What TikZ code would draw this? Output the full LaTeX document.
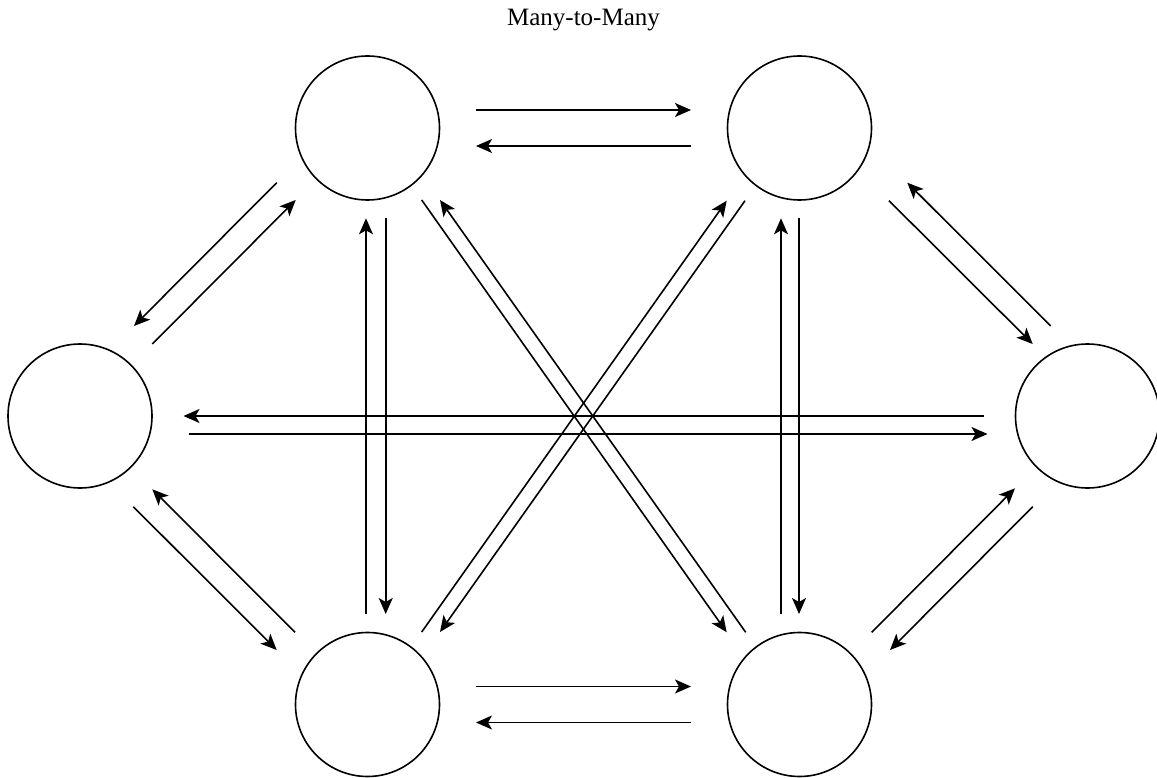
\documentclass[tikz,border=0pt]{standalone}
\usepackage{fontspec}
\setmainfont{Liberation Serif}
\usetikzlibrary{arrows.meta,calc}
\begin{document}
\begin{tikzpicture}[x=1pt,y=-1pt,
  vertex/.style={circle,draw,line width=1.6pt,minimum size=144pt,inner sep=0pt},
  link/.style={line width=1.6pt,-{Stealth[length=16pt,width=14pt,inset=4pt]}}]
\useasboundingbox (0,0) rectangle (1157,778);

% heading
\node (title) at (583.5,20) {\fontsize{25}{29}\selectfont Many-to-Many};

% the six participants
\node[vertex] (L)  at (80,416)      {};
\node[vertex] (TL) at (367.5,128)   {};
\node[vertex] (TR) at (799.5,128)   {};
\node[vertex] (R)  at (1087.5,416)  {};
\node[vertex] (BL) at (367.5,704.5) {};
\node[vertex] (BR) at (799.5,704.5) {};

% top pair
\draw[link] ($(TL)+(108.5,-18)$) -- ($(TR)+(-108.5,-18)$);
\draw[link] ($(TR)+(-108.5,18)$) -- ($(TL)+(108.5,18)$);
% bottom pair
\draw[link] ($(BL)+(108.5,-18)$) -- ($(BR)+(-108.5,-18)$);
\draw[link] ($(BR)+(-108.5,18)$) -- ($(BL)+(108.5,18)$);
% middle pair
\draw[link] ($(R)+(-104,0)$) -- ($(L)+(103.5,0)$);
\draw[link] ($(L)+(108.5,18)$) -- ($(R)+(-100,18)$);

% left side
\draw[link] ($(TL)+(-90.8,54.7)$) -- ($(L)+(54,-90)$);
\draw[link] ($(L)+(72.3,-72)$) -- ($(TL)+(-71.8,72)$);
\draw[link] ($(BL)+(-72.5,-72.2)$) -- ($(L)+(72.3,73.3)$);
\draw[link] ($(L)+(53.3,90.7)$) -- ($(BL)+(-90.8,-54.5)$);

% verticals
\draw[link] ($(BL)+(-1.5,-90.2)$) -- ($(TL)+(-1.5,90.3)$);
\draw[link] ($(TL)+(18.2,90)$) -- ($(BL)+(18.2,-90.5)$);
\draw[link] ($(BR)+(-18.5,-90.2)$) -- ($(TR)+(-18.5,90.3)$);
\draw[link] ($(TR)+(-0.5,90)$) -- ($(BR)+(-0.5,-90.5)$);

% diagonals
\draw[link] ($(TL)+(54.2,72)$) -- ($(BR)+(-72.8,-72.2)$);
\draw[link] ($(BR)+(-53.8,-72.2)$) -- ($(TL)+(72.5,72)$);
\draw[link] ($(BL)+(54.2,-72.5)$) -- ($(TR)+(-72.8,72.7)$);
\draw[link] ($(TR)+(-54.5,72.7)$) -- ($(BL)+(72.5,-72.5)$);

% right side
\draw[link] ($(TR)+(89.5,72.7)$) -- ($(R)+(-54.8,-72)$);
\draw[link] ($(R)+(-36.8,-90)$) -- ($(TR)+(107.8,54.7)$);
\draw[link] ($(BR)+(72.2,-72.2)$) -- ($(R)+(-72.5,72.3)$);
\draw[link] ($(R)+(-54.8,90.7)$) -- ($(BR)+(90.5,-54.5)$);
\end{tikzpicture}
\end{document}
